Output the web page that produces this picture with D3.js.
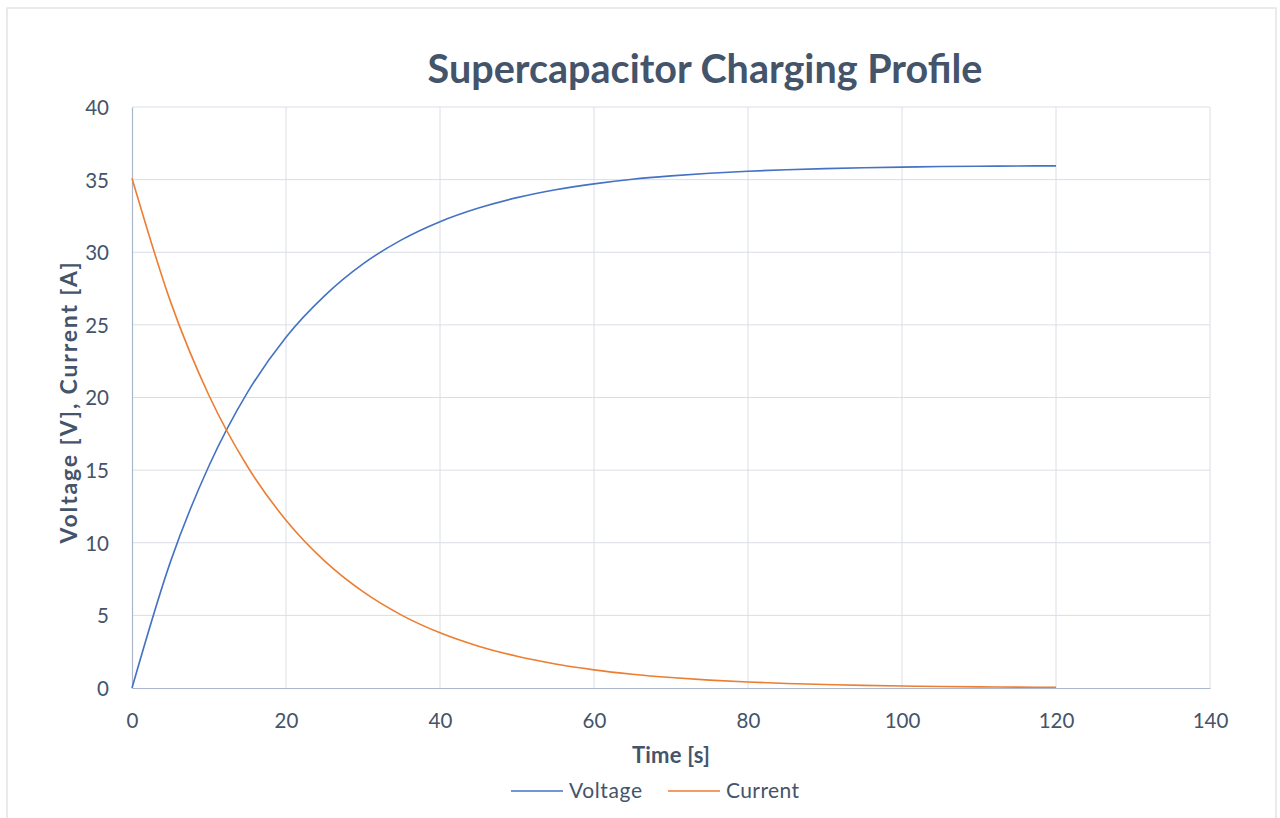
<!DOCTYPE html>
<html>
<head>
<meta charset="utf-8">
<script src="https://cdn.jsdelivr.net/npm/d3@7"></script>
<style>
html,body{margin:0;padding:0;background:#fff;}
svg{display:block;}
</style>
</head>
<body>
<svg id="chart" width="1280" height="818"></svg>
<script>
const timeS = [0,5,10,15,20,25,30,35,40,45,50,55,60,65,70,75,80,85,90,95,100,105,110,115,120];
const voltage = [0,8.7,15.3,20.35,24.15,27.0,29.2,30.85,32.1,33.04,33.76,34.3,34.71,35.03,35.26,35.44,35.58,35.68,35.76,35.82,35.86,35.9,35.92,35.94,35.95];
const current = [35.1,26.6,20.14,15.25,11.55,8.75,6.63,5.02,3.8,2.88,2.18,1.65,1.25,0.95,0.72,0.54,0.41,0.31,0.24,0.18,0.14,0.1,0.08,0.06,0.05];
const xTicks = [0,20,40,60,80,100,120,140];
const yTicks = [0,5,10,15,20,25,30,35,40];
const seriesNames = ["Voltage","Current"];
const colors = ["#4472c4","#ed7d31"];

const font = "Lato, 'Open Sans', sans-serif";
const textColor = "#44546a";
const svg = d3.select("#chart");

function fit(sel, target) {
  const fs = parseFloat(sel.attr("font-size"));
  const w = sel.node().getComputedTextLength();
  if (w > 0) sel.attr("font-size", (fs * target / w).toFixed(2));
  return sel;
}
function spread(sel, target) {
  const w = sel.node().getComputedTextLength();
  const n = sel.text().length;
  if (w > 0 && n > 1) sel.attr("letter-spacing", ((target - w) / (n - 1)).toFixed(2));
  return sel;
}

svg.append("rect").attr("x",7).attr("y",8).attr("width",1269).attr("height",830)
  .attr("fill","#fff").attr("stroke","#e1e4e8").attr("stroke-width",1.5);

const pL=132, pR=1210, pT=107, pB=688;
const x = d3.scaleLinear().domain([0,140]).range([pL,pR]);
const y = d3.scaleLinear().domain([0,40]).range([pB,pT]);

svg.append("g").selectAll("line").data(yTicks.filter(d=>d>0)).join("line")
  .attr("x1",pL).attr("x2",pR).attr("y1",d=>y(d)).attr("y2",d=>y(d))
  .attr("stroke","#d9dee6").attr("stroke-width",1);
svg.append("g").selectAll("line").data(xTicks.filter(d=>d>0)).join("line")
  .attr("y1",pT).attr("y2",pB).attr("x1",d=>x(d)).attr("x2",d=>x(d))
  .attr("stroke","#d9dee6").attr("stroke-width",1);

const xAxis = svg.append("g").attr("transform",`translate(0,${pB})`)
  .call(d3.axisBottom(x).tickValues(xTicks).tickSize(0).tickPadding(0));
const yAxis = svg.append("g").attr("transform",`translate(${pL},0)`)
  .call(d3.axisLeft(y).tickValues(yTicks).tickSize(0).tickPadding(23));
[xAxis,yAxis].forEach(a=>{
  a.select(".domain").attr("stroke","#a9b6cb").attr("stroke-width",1.2);
  a.selectAll("text").attr("font-family",font).attr("font-size",20.5).attr("fill",textColor);
});
xAxis.selectAll("text").attr("y",40).attr("dy",null);
yAxis.selectAll("text").attr("dy","0.36em");

const data = [voltage, current];
data.forEach((vals,i)=>{
  const line = d3.line().x((d,j)=>x(timeS[j])).y(d=>y(d)).curve(d3.curveMonotoneX);
  svg.append("path").datum(vals).attr("d",line).attr("fill","none")
    .attr("stroke",colors[i]).attr("stroke-width",1.6);
});

fit(svg.append("text").attr("x",705).attr("y",83).attr("text-anchor","middle")
  .attr("font-family",font).attr("font-weight","bold").attr("font-size",40)
  .attr("fill",textColor).text("Supercapacitor Charging Profile"), 555);

spread(svg.append("text").attr("x",671).attr("y",763).attr("text-anchor","middle")
  .attr("font-family",font).attr("font-weight","bold").attr("font-size",22)
  .attr("fill",textColor).text("Time [s]"), 78);
spread(svg.append("text").attr("transform","translate(77,402) rotate(-90)").attr("text-anchor","middle")
  .attr("font-family",font).attr("font-weight","bold").attr("font-size",23)
  .attr("fill",textColor).text("Voltage [V], Current [A]"), 281);

const legX = [511, 668];
seriesNames.forEach((n,i)=>{
  svg.append("line").attr("x1",legX[i]).attr("x2",legX[i]+52).attr("y1",791).attr("y2",791)
    .attr("stroke",colors[i]).attr("stroke-width",1.6);
  spread(svg.append("text").attr("x",legX[i]+58).attr("y",798).attr("font-family",font)
    .attr("font-size",21).attr("fill",textColor).text(n), 73);
});
</script>
</body>
</html>
